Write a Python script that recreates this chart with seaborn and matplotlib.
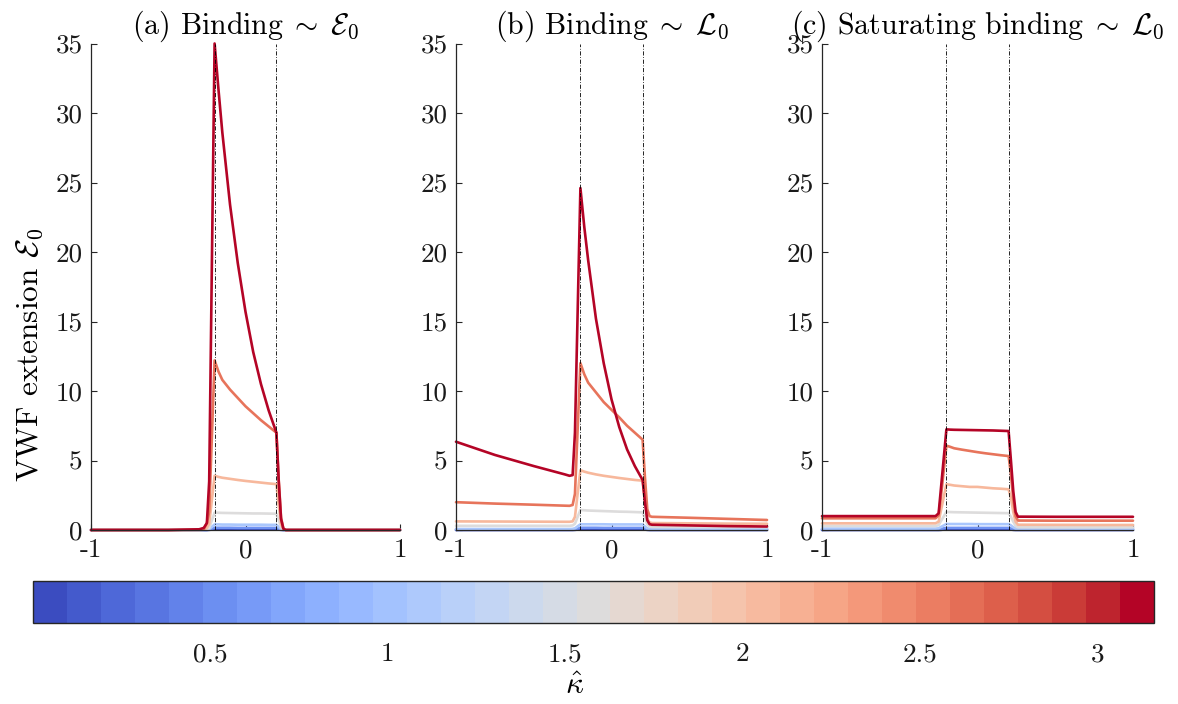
import numpy as np
import pandas as pd
import matplotlib
matplotlib.use("Agg")
import matplotlib.pyplot as plt
from matplotlib.colors import ListedColormap, BoundaryNorm, Normalize
from matplotlib.cm import ScalarMappable
import seaborn as sns

sns.set_style("ticks")
plt.rcParams.update({
    "font.family": "serif",
    "font.serif": ["cmr10"],
    "mathtext.fontset": "cm",
    "axes.unicode_minus": False,
    "axes.formatter.use_mathtext": True,
})

# ---------------------------------------------------------------- data
kappa_values = [0.0, 0.5, 1.0, 1.5, 2.0, 2.5, 3.0]

x_grid = [-1.0, -0.75, -0.5, -0.3, -0.27, -0.25, -0.235, -0.2, -0.175, -0.15,
          -0.1, -0.05, 0.0, 0.05, 0.1, 0.15, 0.2, 0.215, 0.23, 0.245, 0.26,
          0.5, 0.75, 1.0]

# (a) binding proportional to E0
ext_a = {
    0.0: [0, 0, 0, 0, 0, 0, 0.01, 0.05, 0.05, 0.05, 0.05, 0.05, 0.05, 0.05, 0.05, 0.05, 0.05, 0.03, 0.01, 0, 0, 0, 0, 0],
    0.5: [0, 0, 0, 0, 0, 0.01, 0.03, 0.16, 0.16, 0.16, 0.16, 0.15, 0.15, 0.15, 0.15, 0.15, 0.15, 0.09, 0.03, 0.01, 0, 0, 0, 0],
    1.0: [0, 0, 0, 0, 0, 0.02, 0.06, 0.40, 0.40, 0.39, 0.39, 0.38, 0.38, 0.38, 0.38, 0.37, 0.37, 0.22, 0.06, 0.01, 0, 0, 0, 0],
    1.5: [0, 0, 0, 0, 0.01, 0.05, 0.15, 1.25, 1.24, 1.23, 1.22, 1.21, 1.20, 1.19, 1.19, 1.18, 1.17, 0.7, 0.2, 0.03, 0, 0, 0, 0],
    2.0: [0, 0, 0, 0, 0.02, 0.15, 0.45, 3.9, 3.82, 3.76, 3.68, 3.6, 3.53, 3.47, 3.41, 3.35, 3.3, 1.8, 0.45, 0.06, 0, 0, 0, 0],
    2.5: [0, 0, 0, 0.02, 0.05, 0.5, 1.3, 12.2, 11.4, 10.8, 10.1, 9.5, 8.9, 8.4, 7.9, 7.45, 7.0, 3.6, 0.9, 0.1, 0, 0, 0, 0],
    3.0: [0, 0, 0, 0.05, 0.15, 0.5, 3.5, 35.0, 31.7, 28.6, 23.4, 19.2, 15.7, 12.8, 10.5, 8.6, 7.0, 3.5, 0.8, 0.1, 0, 0, 0, 0],
}

# (b) binding proportional to L0
ext_b = {
    0.0: [0, 0, 0, 0, 0, 0, 0.01, 0.05, 0.05, 0.05, 0.05, 0.05, 0.05, 0.05, 0.05, 0.05, 0.05, 0.03, 0.01, 0, 0, 0, 0, 0],
    0.5: [0.02, 0.02, 0.02, 0.02, 0.02, 0.03, 0.05, 0.16, 0.16, 0.16, 0.16, 0.15, 0.15, 0.15, 0.15, 0.15, 0.15, 0.1, 0.04, 0.02, 0.02, 0.02, 0.02, 0.02],
    1.0: [0.07, 0.07, 0.07, 0.07, 0.07, 0.08, 0.12, 0.41, 0.41, 0.41, 0.41, 0.41, 0.40, 0.40, 0.40, 0.40, 0.40, 0.26, 0.12, 0.08, 0.07, 0.07, 0.07, 0.07],
    1.5: [0.30, 0.30, 0.30, 0.30, 0.30, 0.33, 0.45, 1.44, 1.42, 1.40, 1.38, 1.36, 1.34, 1.32, 1.31, 1.29, 1.27, 0.85, 0.4, 0.25, 0.22, 0.21, 0.2, 0.2],
    2.0: [0.62, 0.61, 0.6, 0.59, 0.59, 0.62, 0.95, 4.3, 4.2, 4.12, 4.0, 3.9, 3.82, 3.74, 3.67, 3.6, 3.55, 2.2, 0.8, 0.55, 0.5, 0.48, 0.46, 0.45],
    2.5: [2.0, 1.9, 1.82, 1.75, 1.74, 1.8, 2.6, 12.0, 11.2, 10.6, 9.9, 9.2, 8.65, 8.1, 7.5, 7.0, 6.5, 3.8, 1.5, 1.0, 0.95, 0.88, 0.8, 0.72],
    3.0: [6.35, 5.4, 4.6, 4.0, 3.9, 3.95, 7.0, 24.6, 21.8, 19.4, 15.2, 12.0, 9.4, 7.4, 5.8, 4.6, 3.6, 2.0, 0.7, 0.42, 0.38, 0.33, 0.28, 0.25],
}

# (c) saturating binding proportional to L0
ext_c = {
    0.0: [0, 0, 0, 0, 0, 0, 0.01, 0.05, 0.05, 0.05, 0.05, 0.05, 0.05, 0.05, 0.05, 0.05, 0.05, 0.03, 0.01, 0, 0, 0, 0, 0],
    0.5: [0.03, 0.03, 0.03, 0.03, 0.03, 0.04, 0.08, 0.15, 0.15, 0.15, 0.15, 0.15, 0.15, 0.15, 0.15, 0.15, 0.15, 0.11, 0.06, 0.03, 0.02, 0.02, 0.02, 0.02],
    1.0: [0.1, 0.1, 0.1, 0.1, 0.1, 0.12, 0.22, 0.43, 0.43, 0.43, 0.43, 0.43, 0.42, 0.42, 0.42, 0.42, 0.42, 0.33, 0.2, 0.1, 0.07, 0.07, 0.07, 0.07],
    1.5: [0.29, 0.29, 0.29, 0.29, 0.29, 0.35, 0.65, 1.30, 1.29, 1.28, 1.27, 1.26, 1.25, 1.24, 1.23, 1.22, 1.21, 0.95, 0.6, 0.3, 0.2, 0.19, 0.19, 0.19],
    2.0: [0.48, 0.48, 0.48, 0.48, 0.48, 0.6, 1.4, 3.29, 3.25, 3.2, 3.15, 3.1, 3.1, 3.05, 3.0, 2.97, 2.93, 2.3, 1.3, 0.6, 0.38, 0.37, 0.36, 0.36],
    2.5: [0.84, 0.84, 0.84, 0.84, 0.84, 1.05, 2.4, 6.07, 5.98, 5.88, 5.78, 5.69, 5.6, 5.52, 5.45, 5.38, 5.32, 4.0, 2.2, 1.0, 0.68, 0.67, 0.67, 0.67],
    3.0: [1.0, 1.0, 1.0, 1.0, 1.0, 1.2, 3.0, 7.24, 7.22, 7.21, 7.2, 7.19, 7.18, 7.17, 7.16, 7.14, 7.12, 5.0, 2.8, 1.3, 0.96, 0.95, 0.95, 0.95],
}

panel_titles = [r"(a) Binding$\;\sim\;\mathcal{E}_0$",
                r"(b) Binding$\;\sim\;\mathcal{L}_0$",
                r"(c) Saturating binding$\;\sim\;\mathcal{L}_0$"]
region_edges = [-0.2, 0.2]
y_ticks = [0, 5, 10, 15, 20, 25, 30, 35]
x_ticks = [-1, 0, 1]
cbar_ticks = [0.5, 1, 1.5, 2, 2.5, 3]
kappa_max = 3.16
n_levels = 33

# ---------------------------------------------------------------- colours
base = plt.get_cmap("coolwarm")
cmap = ListedColormap(base(np.linspace(0, 1, n_levels)))
norm = BoundaryNorm(np.linspace(0, kappa_max, n_levels + 1), n_levels)
line_norm = Normalize(min(kappa_values), max(kappa_values))
palette = {k: base(line_norm(k)) for k in kappa_values}

axis_col = "#262626"
fs_tick = 19.5
fs_title = 21.5
fs_label = 22.5

fig = plt.figure(figsize=(11.78, 7.04), dpi=100)
W, H = 1178, 704
ax_top, ax_bot = 43.5, 530
panel_px = [(91, 309), (456, 311), (822, 311)]


def frame(px):
    left, width = px
    return [left / W, 1 - ax_bot / H, width / W, (ax_bot - ax_top) / H]


for (px, title, ext) in zip(panel_px, panel_titles, [ext_a, ext_b, ext_c]):
    ax = fig.add_axes(frame(px))
    df = pd.DataFrame({
        "x": np.tile(x_grid, len(kappa_values)),
        "E": np.concatenate([ext[k] for k in kappa_values]),
        "kappa": np.repeat(kappa_values, len(x_grid)),
    })
    sns.lineplot(data=df, x="x", y="E", hue="kappa", palette=palette,
                 estimator=None, sort=False, legend=False, lw=1.9, ax=ax,
                 clip_on=False)
    for xe in region_edges:
        ax.axvline(xe, color="k", lw=0.6, ls=(0, (5, 2, 1, 2)), zorder=5)
    ax.set_xlim(-1, 1)
    ax.set_ylim(0, 35)
    ax.set_xticks(x_ticks)
    ax.set_xticklabels([str(t) for t in x_ticks])
    ax.set_yticks(y_ticks)
    ax.set_yticklabels([str(t) for t in y_ticks])
    ax.set_xlabel("")
    ax.set_ylabel("")
    for s in ["top", "right"]:
        ax.spines[s].set_visible(False)
    for s in ["left", "bottom"]:
        ax.spines[s].set_color(axis_col)
        ax.spines[s].set_linewidth(0.9)
    ax.tick_params(direction="in", length=4, width=0.8, color=axis_col,
                   labelsize=fs_tick, labelcolor="#1a1a1a", pad=6)
    ax.set_title(title, fontsize=fs_title, pad=6, color="black")

fig.text(30 / W, 1 - 355 / H, r"VWF extension $\mathcal{E}_0$", rotation=90,
         ha="center", va="center", fontsize=fs_label, color="black")

# ---------------------------------------------------------------- colorbar
cax = fig.add_axes([33 / W, 1 - 623 / H, 1121 / W, 42 / H])
cb = fig.colorbar(ScalarMappable(norm=norm, cmap=cmap), cax=cax,
                  orientation="horizontal")
cb.set_ticks(cbar_ticks)
cb.set_ticklabels([f"{t:g}" for t in cbar_ticks])
cb.minorticks_off()
cb.outline.set_edgecolor(axis_col)
cb.outline.set_linewidth(1.0)
cax.tick_params(which="both", direction="in", length=9, width=0.9,
                color=axis_col, labelsize=fs_tick, labelcolor="#1a1a1a",
                pad=14)
cax.tick_params(which="minor", length=0)
fig.text(575 / W, 1 - 686 / H, r"$\hat{\kappa}$", ha="center", va="center",
         fontsize=fs_label, color="black")

fig.savefig("out.png", dpi=100)
